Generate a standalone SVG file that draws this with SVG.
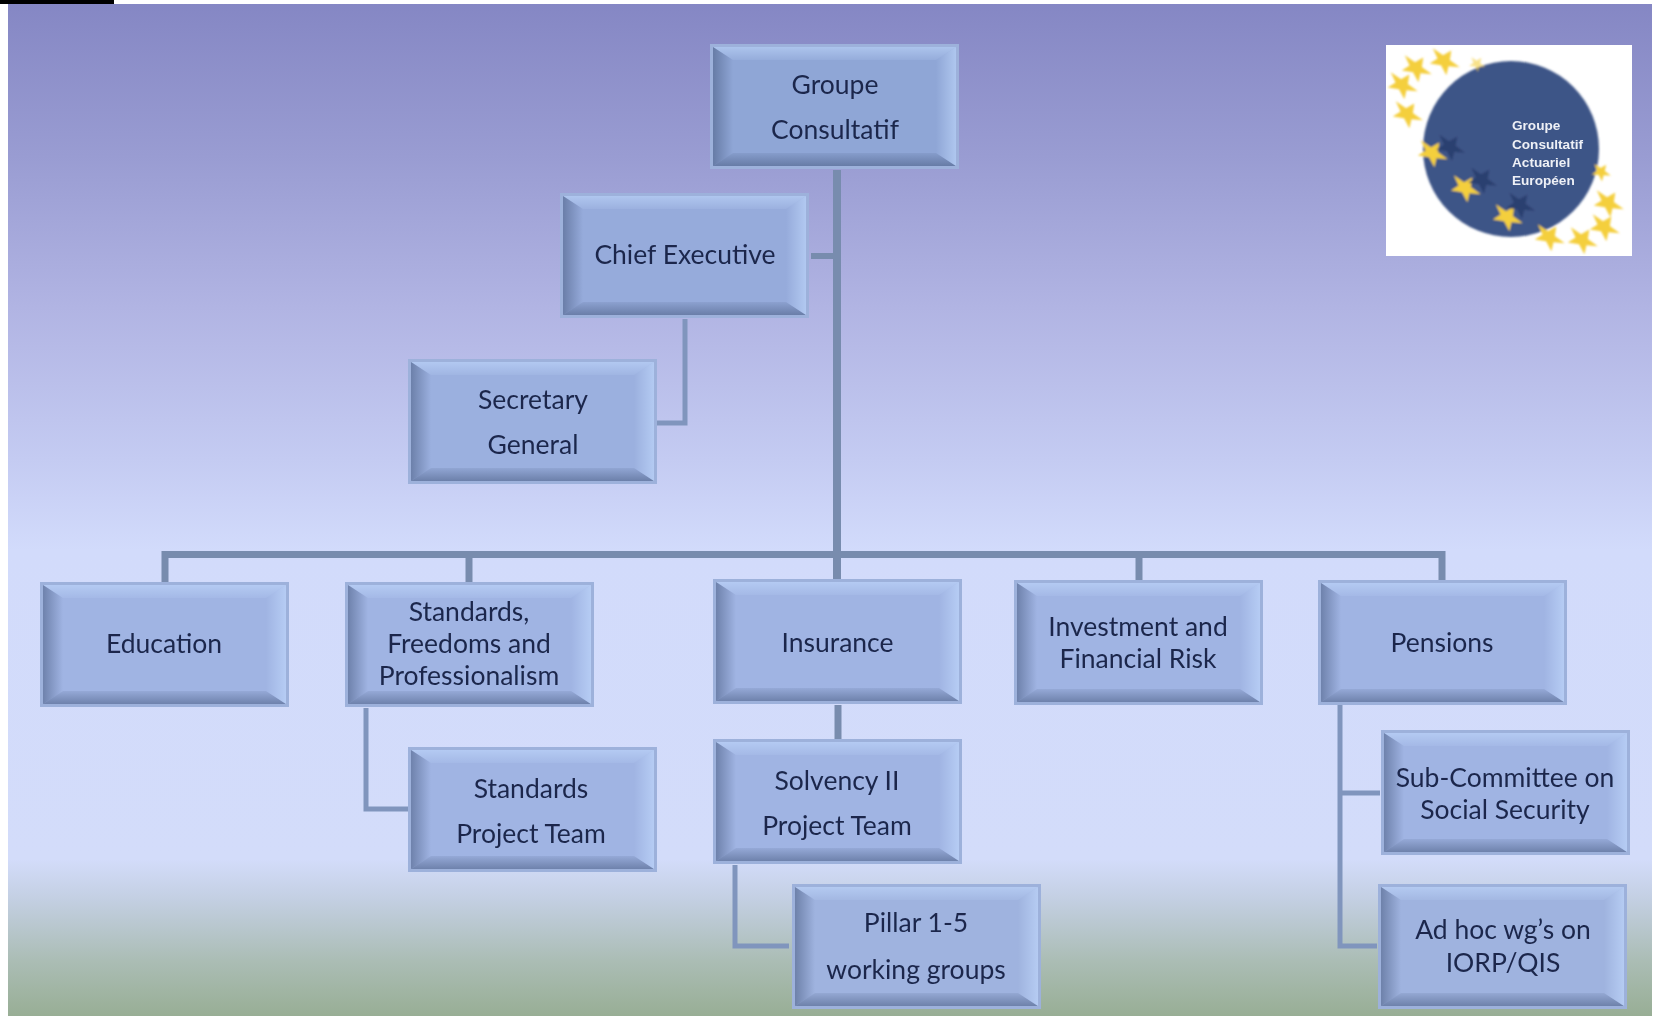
<svg xmlns="http://www.w3.org/2000/svg" xmlns:xlink="http://www.w3.org/1999/xlink" width="1655" height="1016" viewBox="0 0 1655 1016">
<style>
text{font-family:Lato,"Liberation Sans",sans-serif;font-size:26.500px;fill:#1b274c;text-anchor:middle}
.logot{font-family:"Liberation Sans",sans-serif;font-size:13.600px;font-weight:bold;fill:#eef0f6;text-anchor:start}
.c{fill:none;stroke-linejoin:miter}
.c1{stroke:#788cae;stroke-width:7}
.c2{stroke:#8095bd;stroke-width:5}
</style>
<defs>
<linearGradient id="bg" x1="0" y1="4" x2="0" y2="1016" gradientUnits="userSpaceOnUse">
<stop offset="0" stop-color="#8587c4"/>
<stop offset=".15" stop-color="#999cd2"/>
<stop offset=".3" stop-color="#b1b4e3"/>
<stop offset=".45" stop-color="#c4cbf2"/>
<stop offset=".54" stop-color="#d2dbfb"/>
<stop offset=".845" stop-color="#d3dcfa"/>
<stop offset=".885" stop-color="#c3cfe2"/>
<stop offset=".945" stop-color="#abbdb5"/>
<stop offset="1" stop-color="#98ae95"/>
</linearGradient>
<linearGradient id="bT" x1="0" y1="0" x2="0" y2="1"><stop offset="0" stop-color="#c4dcff" stop-opacity=".55"/><stop offset="1" stop-color="#c4dcff" stop-opacity=".12"/></linearGradient>
<linearGradient id="bB" x1="0" y1="1" x2="0" y2="0"><stop offset="0" stop-color="#46597f" stop-opacity=".55"/><stop offset="1" stop-color="#46597f" stop-opacity=".12"/></linearGradient>
<linearGradient id="bL" x1="0" y1="0" x2="1" y2="0"><stop offset="0" stop-color="#46597f" stop-opacity=".55"/><stop offset="1" stop-color="#46597f" stop-opacity="0"/></linearGradient>
<linearGradient id="bR" x1="1" y1="0" x2="0" y2="0"><stop offset="0" stop-color="#c4dcff" stop-opacity=".6"/><stop offset="1" stop-color="#c4dcff" stop-opacity="0"/></linearGradient>
<g id="box">
<rect x="0" y="0" width="249" height="125" fill="#9db1db"/>
<rect x="3" y="3" width="243" height="119"/>
<polygon points="3,3 246,3 226,16 23,16" fill="url(#bT)"/>
<polygon points="3,122 246,122 226,109 23,109" fill="url(#bB)"/>
<polygon points="3,3 23,16 23,109 3,122" fill="url(#bL)"/>
<polygon points="246,3 226,16 226,109 246,122" fill="url(#bR)"/>
</g>
<polygon id="star" points="0,-15 3.6,-5 14.3,-4.6 5.8,2 8.8,12.1 0,6.2 -8.8,12.1 -5.8,2 -14.3,-4.6 -3.6,-5"/>
<filter id="soft" x="-5%" y="-5%" width="110%" height="110%"><feGaussianBlur stdDeviation="1"/></filter>
<filter id="soft2" x="-5%" y="-10%" width="110%" height="120%"><feGaussianBlur stdDeviation=".5"/></filter>
<filter id="t" x="-5%" y="-10%" width="110%" height="120%"><feGaussianBlur stdDeviation=".4"/></filter>
</defs>
<rect width="1655" height="1016" fill="#fff"/>
<rect x="8" y="4" width="1644" height="1012" fill="url(#bg)"/>
<rect x="0" y="0" width="114" height="4" fill="#000"/>

<g id="connectors">
<path class="c" d="M837 170V580" stroke="#788cae" stroke-width="8"/>
<path class="c c1" d="M811 256H834" style="stroke-width:6"/>
<path class="c c1" d="M165 583V554.500H1442V580"/>
<path class="c c1" d="M469 583V555"/>
<path class="c c1" d="M1139 580V555"/>
<path class="c c2" d="M685 319V423H657"/>
<path class="c c2" d="M366 708V809H408"/>
<path class="c c1" d="M838 705V739"/>
<path class="c c2" d="M735 865V946H789"/>
<path class="c c2" d="M1340 705V946H1377M1340 793H1380"/>
</g>

<g id="node-groupe"><use href="#box" x="710" y="44" fill="#8fa6d6"/><g filter="url(#t)"><text x="835" y="94">Groupe</text><text x="835" y="139">Consultatif</text></g></g>
<g id="node-chief"><use href="#box" x="560" y="193" fill="#96abdb"/><g filter="url(#t)"><text x="685" y="264">Chief Executive</text></g></g>
<g id="node-secretary"><use href="#box" x="408" y="359" fill="#9bb0df"/><g filter="url(#t)"><text x="533" y="409">Secretary</text><text x="533" y="454">General</text></g></g>
<g id="node-education"><use href="#box" x="40" y="582" fill="#a0b4e3"/><g filter="url(#t)"><text x="164" y="653">Education</text></g></g>
<g id="node-standards"><use href="#box" x="345" y="582" fill="#a0b4e3"/><g filter="url(#t)"><text x="469" y="621">Standards,</text><text x="469" y="653">Freedoms and</text><text x="469" y="685">Professionalism</text></g></g>
<g id="node-insurance"><use href="#box" x="713" y="579" fill="#a0b4e3"/><g filter="url(#t)"><text x="837.500" y="652">Insurance</text></g></g>
<g id="node-investment"><use href="#box" x="1014" y="580" fill="#a0b4e3"/><g filter="url(#t)"><text x="1138" y="636">Investment and</text><text x="1138" y="668">Financial Risk</text></g></g>
<g id="node-pensions"><use href="#box" x="1318" y="580" fill="#a0b4e3"/><g filter="url(#t)"><text x="1442" y="652">Pensions</text></g></g>
<g id="node-standards-pt"><use href="#box" x="408" y="747" fill="#a0b4e3"/><g filter="url(#t)"><text x="531" y="798">Standards</text><text x="531" y="843">Project Team</text></g></g>
<g id="node-solvency"><use href="#box" x="713" y="739" fill="#a0b4e3"/><g filter="url(#t)"><text x="837" y="790">Solvency II</text><text x="837" y="835">Project Team</text></g></g>
<g id="node-pillar"><use href="#box" x="792" y="884" fill="#9fb3df"/><g filter="url(#t)"><text x="916" y="932">Pillar 1-5</text><text x="916" y="979">working groups</text></g></g>
<g id="node-subcommittee"><use href="#box" x="1381" y="730" fill="#a0b4e3"/><g filter="url(#t)"><text x="1505" y="787">Sub-Committee on</text><text x="1505" y="819">Social Security</text></g></g>
<g id="node-adhoc"><use href="#box" x="1378" y="884" fill="#9fb3df"/><g filter="url(#t)"><text x="1503" y="939">Ad hoc wg’s on</text><text x="1503" y="972">IORP/QIS</text></g></g>

<g id="logo">
<rect x="1386" y="45" width="246" height="211" fill="#fff"/>
<g filter="url(#soft)">
<circle cx="1511" cy="149" r="88" fill="#3e5587"/>
<g fill="#f4cf3c">
<use href="#star" transform="translate(1416,68) rotate(35) scale(1.15,.85)"/>
<use href="#star" transform="translate(1444,61) rotate(35) scale(1.15,.85)"/>
<use href="#star" transform="translate(1402,85) rotate(35) scale(1.15,.85)"/>
<use href="#star" transform="translate(1407,114) rotate(35) scale(1.15,.85)"/>
<use href="#star" transform="translate(1432,153) rotate(35) scale(1.15,.85)"/>
<use href="#star" transform="translate(1465,188) rotate(35) scale(1.15,.85)"/>
<use href="#star" transform="translate(1507,217) rotate(35) scale(1.15,.85)"/>
<use href="#star" transform="translate(1549,237) rotate(35) scale(1.15,.85)"/>
<use href="#star" transform="translate(1582,240) rotate(35) scale(1.15,.85)"/>
<use href="#star" transform="translate(1604,227) rotate(35) scale(1.15,.85)"/>
<use href="#star" transform="translate(1608,203) rotate(35) scale(1.15,.85)"/>
<use href="#star" transform="translate(1601,172) rotate(35) scale(.7,.6)"/>
<use href="#star" transform="translate(1477,64) rotate(35) scale(.6,.5)" opacity=".6"/>
</g>
<g fill="#2c3f70">
<use href="#star" transform="translate(1450,147) rotate(35) scale(1.1,.85)"/>
<use href="#star" transform="translate(1482,180) rotate(35) scale(1.1,.85)"/>
<use href="#star" transform="translate(1520,205) rotate(35) scale(1.1,.85)"/>
</g>
</g>
<g filter="url(#soft2)">
<text class="logot" x="1512" y="130">Groupe</text>
<text class="logot" x="1512" y="149">Consultatif</text>
<text class="logot" x="1512" y="167">Actuariel</text>
<text class="logot" x="1512" y="185">Européen</text>
</g>
</g>
</svg>
